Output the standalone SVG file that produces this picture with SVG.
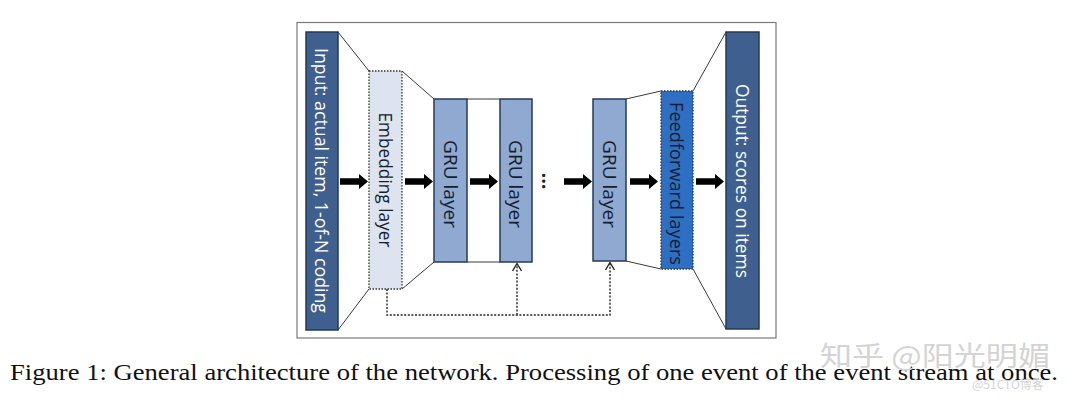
<svg xmlns="http://www.w3.org/2000/svg" xmlns:xlink="http://www.w3.org/1999/xlink" width="1080" height="402" viewBox="0 0 1080 402">
<style>
.frame{fill:#fff;stroke:#7a7a7a;stroke-width:1.2}
.io{fill:#3f5f8f;stroke:#24385a;stroke-width:1.5}
.emb{fill:#dde4ef;stroke:#333;stroke-width:1.3;stroke-dasharray:1.5 1.5}
.gru{fill:#8fa9d1;stroke:#263a5c;stroke-width:1.5}
.ff{fill:#2f6fc3;stroke:#1c3560;stroke-width:1.3;stroke-dasharray:1.5 1.5}
.lbl{font-family:"Open Sans","Liberation Sans",sans-serif;font-size:18px;font-weight:500;text-anchor:middle;dominant-baseline:central}
.w{fill:#fff}
.d{fill:#151d2e}
.trap{stroke:#3a3a3a;stroke-width:1;fill:none}
.dot{stroke:#222;stroke-width:1.4;fill:none;stroke-dasharray:2 1.6}
.chev{stroke:#222;stroke-width:1.4;fill:none}
.cap{font-family:"Liberation Serif","Times New Roman",serif;font-size:23px;fill:#111}
.wm{font-family:"Noto Sans CJK SC","Noto Sans",sans-serif;fill:#d4d4d4}
</style>
<defs>
<path id="arr" d="M0,-3.2 H19 V-7.5 L28,0 L19,7.5 V3.2 H0 Z" fill="#000"/>
</defs>
<rect class="frame" x="297" y="22.5" width="479" height="315.5"/>
<g id="trapezoids">
<path class="trap" d="M338,32 L369,71 M338,330 L369,289 M402,71 L434,99 M402,289 L434,262 M467,99 H500 M467,262 H500 M626,99 L661,91 M626,261 L661,269 M693,91 L726,32 M693,269 L726,329"/>
</g>
<g id="input">
<rect class="io" x="306" y="32" width="32" height="298"/>
<text class="lbl w" transform="translate(322,180.5) rotate(90)" textLength="265" lengthAdjust="spacingAndGlyphs">Input: actual item, 1-of-N coding</text>
</g>
<g id="embedding">
<rect class="emb" x="369" y="71" width="33" height="218"/>
<text class="lbl d" transform="translate(385.5,180) rotate(90)" textLength="135" lengthAdjust="spacingAndGlyphs">Embedding layer</text>
</g>
<g id="gru1">
<rect class="gru" x="434" y="99" width="33" height="163"/>
<text class="lbl d" transform="translate(450.5,184) rotate(90)" textLength="88" lengthAdjust="spacingAndGlyphs">GRU layer</text>
</g>
<g id="gru2">
<rect class="gru" x="500" y="99" width="32" height="163"/>
<text class="lbl d" transform="translate(516,184) rotate(90)" textLength="88" lengthAdjust="spacingAndGlyphs">GRU layer</text>
</g>
<g id="ellipsis">
<text class="lbl d" style="font-size:20px;font-weight:700" transform="translate(549,181) rotate(90)">...</text>
</g>
<g id="gru3">
<rect class="gru" x="593" y="99" width="33" height="162"/>
<text class="lbl d" transform="translate(609.5,184) rotate(90)" textLength="88" lengthAdjust="spacingAndGlyphs">GRU layer</text>
</g>
<g id="feedforward">
<rect class="ff" x="661" y="91" width="32" height="178"/>
<text class="lbl d" transform="translate(677,183.5) rotate(90)" textLength="163" lengthAdjust="spacingAndGlyphs">Feedforward layers</text>
</g>
<g id="output">
<rect class="io" x="726" y="32" width="33" height="297"/>
<text class="lbl w" transform="translate(742.5,181) rotate(90)" textLength="194" lengthAdjust="spacingAndGlyphs">Output: scores on items</text>
</g>
<g id="connectors">
<use xlink:href="#arr" href="#arr" transform="translate(340,181.5)"/>
<use xlink:href="#arr" href="#arr" transform="translate(405,181.5)"/>
<use xlink:href="#arr" href="#arr" transform="translate(470,181.5)"/>
<use xlink:href="#arr" href="#arr" transform="translate(564,181.5)"/>
<use xlink:href="#arr" href="#arr" transform="translate(630,181.5)"/>
<use xlink:href="#arr" href="#arr" transform="translate(696,181.5)"/>
<path class="dot" d="M387,289 V315 H610 V263 M517,315 V264"/>
<path class="chev" d="M512.5,271 L517,263.5 L521.5,271 M605.5,270 L610,262.5 L614.5,270"/>
</g>
<text class="cap" x="10" y="380" textLength="1048" lengthAdjust="spacingAndGlyphs">Figure 1: General architecture of the network. Processing of one event of the event stream at once.</text>
<text class="wm" x="820" y="366" font-size="27" textLength="230" lengthAdjust="spacingAndGlyphs">知乎 @阳光明媚</text>
<text class="wm" x="972" y="389" font-size="12" fill="#c8c8c8">@51CTO博客</text>
</svg>
